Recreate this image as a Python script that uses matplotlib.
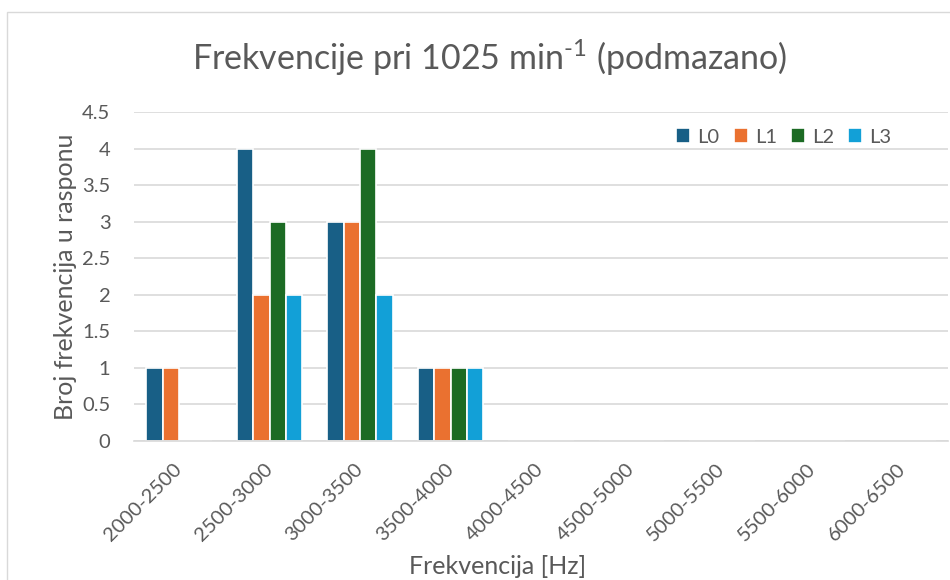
import matplotlib.pyplot as plt
import numpy as np
from matplotlib.patches import Rectangle

categories = ['2000-2500', '2500-3000', '3000-3500', '3500-4000', '4000-4500',
              '4500-5000', '5000-5500', '5500-6000', '6000-6500']
series_names = ['L0', 'L1', 'L2', 'L3']
l0 = [1, 4, 3, 1, 0, 0, 0, 0, 0]
l1 = [1, 2, 3, 1, 0, 0, 0, 0, 0]
l2 = [0, 3, 4, 1, 0, 0, 0, 0, 0]
l3 = [0, 2, 2, 1, 0, 0, 0, 0, 0]
yticks = [0, 0.5, 1, 1.5, 2, 2.5, 3, 3.5, 4, 4.5]
ytick_labels = ['0', '0.5', '1', '1.5', '2', '2.5', '3', '3.5', '4', '4.5']

colors = ['#185F86', '#EA7130', '#1C6B24', '#12A0D7']
grey = '#595959'

plt.rcParams['font.family'] = ['Lato', 'DejaVu Sans']
plt.rcParams['mathtext.fontset'] = 'custom'
plt.rcParams['mathtext.rm'] = 'Lato'

fig = plt.figure(figsize=(9.5, 5.8), dpi=100)
# thin frame around the whole chart
fig.patches.append(Rectangle((7 / 950, -0.1), 1.2, 1.1 - 12 / 580,
                             transform=fig.transFigure, fill=False,
                             edgecolor='#D9D9D9', linewidth=1))

ax = fig.add_axes([134 / 950, 1 - 441 / 580, (948 - 134) / 950, (441 - 112) / 580])
ax.set_axisbelow(True)

x = np.arange(len(categories))
step = 0.181
for i, (name, vals) in enumerate(zip(series_names, [l0, l1, l2, l3])):
    ax.bar(x + (i - 1.5) * step, vals, width=step, color=colors[i],
           edgecolor='white', linewidth=1.2, label=name, zorder=2)

ax.set_xlim(-0.5, len(categories) - 0.5)
ax.set_ylim(0, 4.5)
ax.set_yticks(yticks)
ax.set_yticklabels(ytick_labels)
ax.yaxis.grid(True, color='#D9D9D9', linewidth=1.2)
for s in ['top', 'right', 'left']:
    ax.spines[s].set_visible(False)
ax.spines['bottom'].set_color('#D9D9D9')
ax.spines['bottom'].set_linewidth(1.2)
ax.spines['bottom'].set_zorder(3)
ax.tick_params(axis='both', length=0, labelsize=14.5, labelcolor=grey)
ax.tick_params(axis='y', pad=17)

ax.set_xticks(x)
ax.set_xticklabels(categories, rotation=45, ha='right', va='center',
                   rotation_mode='anchor')
ax.tick_params(axis='x', pad=18)

ax.set_ylabel('Broj frekvencija u rasponu', fontsize=18, color=grey, labelpad=4)
fig.text(498 / 950, 1 - 567 / 580, 'Frekvencija [Hz]', fontsize=18, color=grey,
         ha='center', va='center')

fig.text(0.515, 1 - 58 / 580, r'Frekvencije pri 1025 min$^{\text{-1}}$ (podmazano)',
         fontsize=24.5, color=grey, ha='center', va='center')

ax.legend(loc='upper right', bbox_to_anchor=(0.953, 1.005), ncol=4, frameon=False,
          fontsize=14.5, labelcolor=grey, handlelength=0.7, handleheight=0.7,
          handletextpad=0.35, columnspacing=0.7)

fig.savefig('out.png', dpi=100)
